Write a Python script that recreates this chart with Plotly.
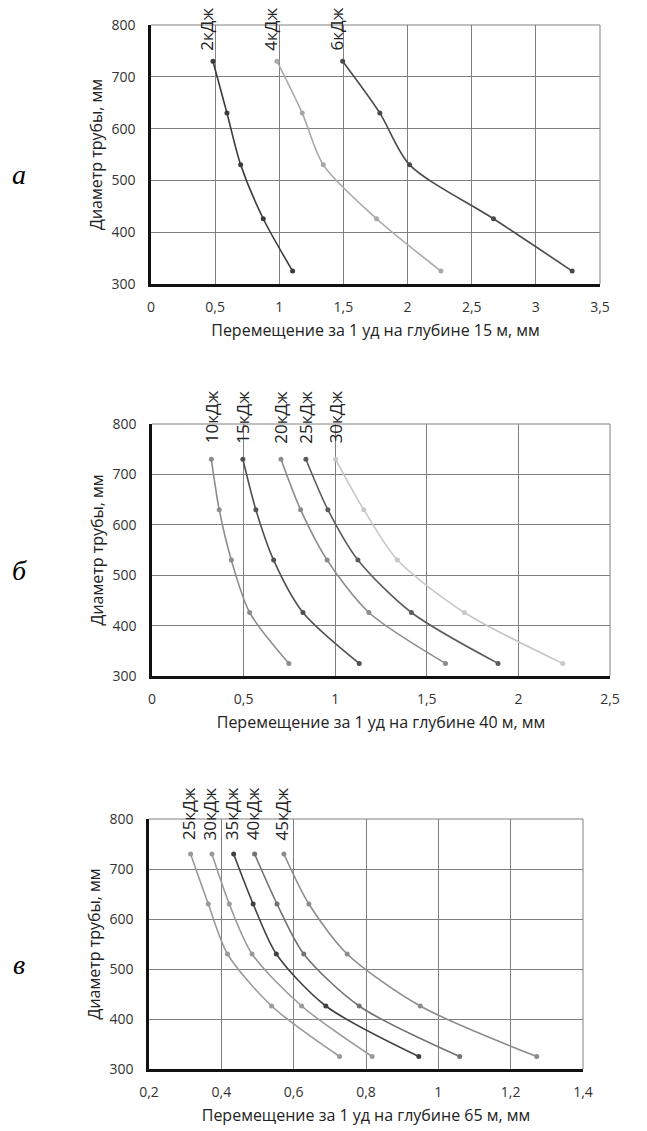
import plotly.graph_objects as go

diam = [730, 630, 530, 426, 325]

# Panel а (15 m)
a_names = ["2кДж", "4кДж", "6кДж"]
a_vals = [
    [0.483, 0.592, 0.699, 0.875, 1.104],
    [0.982, 1.179, 1.343, 1.758, 2.260],
    [1.494, 1.784, 2.016, 2.670, 3.283],
]
a_colors = ["#3c3c3c", "#a8a8a8", "#4a4a4a"]

# Panel б (40 m)
b_names = ["10кДж", "15кДж", "20кДж", "25кДж", "30кДж"]
b_vals = [
    [0.324, 0.367, 0.433, 0.533, 0.747],
    [0.496, 0.567, 0.664, 0.824, 1.131],
    [0.704, 0.811, 0.956, 1.184, 1.602],
    [0.840, 0.960, 1.124, 1.416, 1.889],
    [1.002, 1.156, 1.340, 1.705, 2.242],
]
b_colors = ["#8c8c8c", "#505050", "#8c8c8c", "#5c5c5c", "#c8c8c8"]

# Panel в (65 m)
c_names = ["25кДж", "30кДж", "35кДж", "40кДж", "45кДж"]
c_vals = [
    [0.315, 0.364, 0.417, 0.539, 0.727],
    [0.374, 0.422, 0.485, 0.622, 0.817],
    [0.434, 0.488, 0.552, 0.689, 0.946],
    [0.492, 0.554, 0.628, 0.781, 1.059],
    [0.573, 0.642, 0.748, 0.950, 1.272],
]
c_colors = ["#9a9a9a", "#9a9a9a", "#404040", "#727272", "#8c8c8c"]

x_titles = [
    "Перемещение за 1 уд на глубине 15 м, мм",
    "Перемещение за 1 уд на глубине 40 м, мм",
    "Перемещение за 1 уд на глубине 65 м, мм",
]
y_title = "Диаметр трубы, мм"
panel_letters = ["а", "б", "в"]

W, H = 647, 1131
# pixel boxes: (left, right, top, bottom)
boxes = [(151, 600, 25, 284), (152, 610, 424, 676), (149, 583, 819, 1069)]
x_ranges = [[0, 3.5], [0, 2.5], [0.2, 1.4]]
x_dticks = [0.5, 0.5, 0.2]
label_xshift = [-6, 0, -2]
label_yshift = [9, 14, 12]

FONT = "Open Sans"
GRID = "#808080"
fig = go.Figure()
panels = [(a_names, a_vals, a_colors), (b_names, b_vals, b_colors), (c_names, c_vals, c_colors)]
annotations = []
shapes = []
layout = {}
for i, (names, vals, cols) in enumerate(panels):
    suf = "" if i == 0 else str(i + 1)
    for n, v, c in zip(names, vals, cols):
        fig.add_trace(go.Scatter(
            x=v, y=diam, mode="lines+markers", name=n,
            line=dict(color=c, width=1.6, shape="spline", smoothing=0.8),
            marker=dict(color=c, size=5),
            xaxis="x" + suf, yaxis="y" + suf, showlegend=False,
        ))
        annotations.append(dict(
            x=v[0], y=diam[0], xref="x" + suf, yref="y" + suf,
            text=n, showarrow=False, textangle=-90,
            xanchor="center", yanchor="bottom",
            xshift=label_xshift[i], yshift=label_yshift[i],
            font=dict(family=FONT, size=17, color="#222222"),
        ))
    l, r, t, b = boxes[i]
    layout["xaxis" + suf] = dict(
        domain=[l / W, r / W], anchor="y" + suf, range=x_ranges[i],
        dtick=x_dticks[i], tick0=0, showgrid=True, gridcolor=GRID, gridwidth=1,
        showline=True, linecolor="#111111", linewidth=2.5, ticks="",
        ticklabelstandoff=8,
        zeroline=False, automargin=False,
        tickfont=dict(family=FONT, size=14, color="#333333"),
        title=dict(text=x_titles[i], standoff=11,
                   font=dict(family=FONT, size=16, color="#222222")),
    )
    layout["yaxis" + suf] = dict(
        domain=[1 - b / H, 1 - t / H], anchor="x" + suf, range=[300, 800],
        dtick=100, showgrid=True, gridcolor=GRID, gridwidth=1,
        showline=True, linecolor="#111111", linewidth=2.5, ticks="",
        ticklabelstandoff=10,
        zeroline=False, automargin=False,
        tickfont=dict(family=FONT, size=14, color="#333333"),
        title=dict(text=y_title, standoff=5,
                   font=dict(family=FONT, size=16, color="#222222")),
    )
    # right and top plot-area borders (thin grey, like gridlines)
    shapes.append(dict(type="line", xref="x" + suf + " domain", yref="y" + suf + " domain",
                       x0=1, x1=1, y0=0, y1=1, line=dict(color=GRID, width=1), layer="below"))
    shapes.append(dict(type="line", xref="x" + suf + " domain", yref="y" + suf + " domain",
                       x0=0, x1=1, y0=1, y1=1, line=dict(color=GRID, width=1), layer="below"))
    annotations.append(dict(
        x=19 / W, y=1 - ((t + b) / 2 + 20) / H, xref="paper", yref="paper",
        text=panel_letters[i], showarrow=False, xanchor="center", yanchor="middle",
        font=dict(family="Liberation Serif", size=28, color="#000000"),
    ))

fig.update_layout(
    width=W, height=H, margin=dict(l=0, r=0, t=0, b=0),
    paper_bgcolor="white", plot_bgcolor="white",
    separators=", ", annotations=annotations, shapes=shapes, **layout,
)
fig.update_annotations(selector=dict(xref="paper"), font_style="italic")
fig.write_html("out.html")
